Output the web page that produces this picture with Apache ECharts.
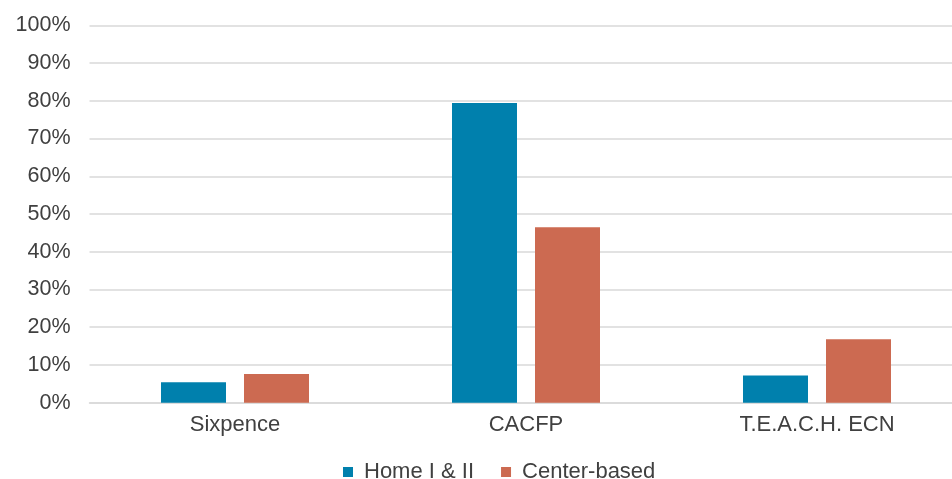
<!DOCTYPE html>
<html><head><meta charset="utf-8">
<script src="https://cdn.jsdelivr.net/npm/echarts@6/dist/echarts.min.js"></script>
<style>html,body{margin:0;padding:0;background:#fff}#c{width:952px;height:479px}</style>
</head><body><div id="c"></div>
<script>
const categories = ['Sixpence', 'CACFP', 'T.E.A.C.H. ECN'];
const homeValues = [5.4, 79.4, 7.2];
const centerValues = [7.6, 46.5, 16.8];
const seriesNames = ['Home I & II', 'Center-based'];

const chart = echarts.init(document.getElementById('c'));
const font = '"Liberation Sans", Arial, Helvetica, sans-serif';
chart.setOption({
  animation: false,
  textStyle: { fontFamily: font },
  grid: { left: 89.5, right: -10.5, top: 25.3, bottom: 76.3, containLabel: false, outerBoundsMode: 'none' },
  legend: {
    data: seriesNames, left: 338, top: 456,
    itemWidth: 10, itemHeight: 10, itemGap: 27, icon: 'rect',
    textStyle: { fontSize: 22, color: '#404040', fontFamily: font, padding: [2, 0, 0, 6] }
  },
  xAxis: {
    type: 'category', data: categories,
    axisLine: { show: true, lineStyle: { color: '#d9d9d9', width: 1.5 } },
    axisTick: { show: false },
    axisLabel: { fontSize: 22, color: '#404040', margin: 11, fontFamily: font }
  },
  yAxis: {
    type: 'value', min: 0, max: 100, interval: 10,
    axisLine: { show: false }, axisTick: { show: false },
    axisLabel: { formatter: '{value}%', fontSize: 21.5, color: '#404040', margin: 19, fontFamily: font },
    splitLine: { lineStyle: { color: '#d9d9d9', width: 1.5 } }
  },
  series: [
    { name: seriesNames[0], type: 'bar', data: homeValues, barWidth: 65, barGap: '27.7%',
      itemStyle: { color: '#0080AD' } },
    { name: seriesNames[1], type: 'bar', data: centerValues, barWidth: 65, barGap: '27.7%',
      itemStyle: { color: '#CC6A51' } }
  ]
});
</script></body></html>
